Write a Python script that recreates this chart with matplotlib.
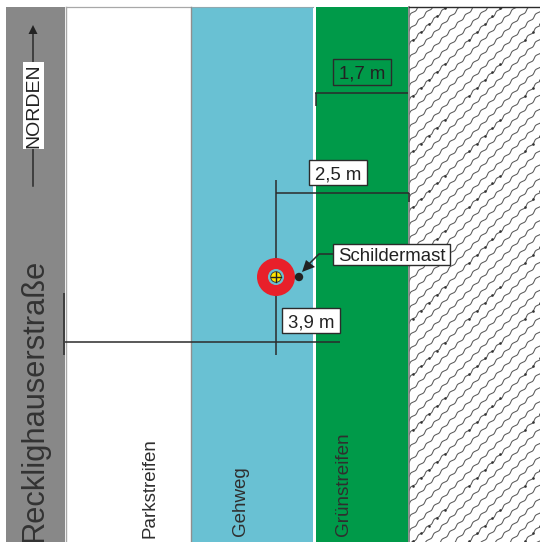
import numpy as np
import matplotlib
matplotlib.use("Agg")
import matplotlib.pyplot as plt
from matplotlib.patches import Rectangle, Circle, Polygon

plt.rcParams['font.family'] = ['Liberation Sans', 'DejaVu Sans']

W, H = 540, 542
# strips: name, x0, x1, colour
strip_names = ["Reckl", "Parkstreifen", "Gehweg", "Grünstreifen"]
strip_x0 = [6, 66, 192, 316]
strip_x1 = [65, 190, 313, 408]
strip_col = ["#888888", "#ffffff", "#69c1d3", "#009a49"]
TOP = 7

labels = ["Parkstreifen", "Gehweg", "Grünstreifen"]
label_x = [149.5, 240, 343.5]
label_y = [538.5, 535.5, 535.5]
label_size = [13.5, 13.5, 13.6]

dim_texts = ["1,7 m", "2,5 m", "3,9 m", "Schildermast"]
dim_boxes = [(333, 59, 391, 85), (309, 160, 367, 185), (282, 308, 340, 333), (333, 244, 450, 265)]
dim_fill = ["none", "white", "white", "white"]

DK = "#2b2b2b"

fig = plt.figure(figsize=(5.4, 5.42), dpi=100)
ax = fig.add_axes([0, 0, 1, 1])
ax.set_xlim(0, W)
ax.set_ylim(H, 0)
ax.axis("off")

# strips
for x0, x1, c in zip(strip_x0, strip_x1, strip_col):
    ax.add_patch(Rectangle((x0, TOP), x1 - x0, H - TOP + 5, fc=c, ec="none", zorder=1))
# outlines of the white strip
ax.plot([66, 66], [TOP, H], color="#a8a8a8", lw=1.0, zorder=2)
ax.plot([66, 190.5], [7, 7], color="#a8a8a8", lw=0.9, zorder=2)
ax.plot([191, 191], [TOP, H], color="#8f8f8f", lw=1.0, zorder=2)
ax.plot([192, 313], [7, 7], color="#8fa9b0", lw=0.8, zorder=2)

# hatch area: wavy diagonals with dots on a repeating tile
HX0, HX1 = 409, 540
PERIOD = 55.7
SPACING = PERIOD / 4
BASE = 413.3 + 40.0
dot_offsets = np.array([[413.3, 40.0], [421.1, 32.1], [428.9, 24.2], [436.7, 16.3], [444.5, 8.4]])
clip = Rectangle((HX0, TOP), HX1 - HX0, H - TOP, transform=ax.transData, fc="none", ec="none")
ax.add_patch(clip)
for k in range(-2, 50):
    c = BASE + (k - 2) * SPACING
    t = np.linspace(350, 600, 1200)
    wave = 0.55 * np.sin(2 * np.pi * (t - 413.3) / 7.8)
    xs = t + wave
    ys = c - t + wave
    ln, = ax.plot(xs, ys, color="#5a5a5a", lw=0.75, zorder=2)
    ln.set_clip_path(clip)
for i in range(-3, 4):
    for j in range(-1, 11):
        pts = dot_offsets + [i * PERIOD, j * PERIOD]
        sc = ax.scatter(pts[:, 0], pts[:, 1], s=3.5, color="#333333", lw=0, zorder=3)
        sc.set_clip_path(clip)
ax.plot([409, 409], [TOP, H], color="#7a7a7a", lw=1.2, zorder=4)
ax.plot([409, 540], [6.5, 6.5], color=DK, lw=1.0, zorder=4)

# dimension lines
segs = [
    ([315, 408], [93, 93]), ([315.5, 315.5], [93, 106]),
    ([276, 409], [193, 193]), ([409, 409], [193, 202]),
    ([276, 276], [180, 355]),
    ([65, 340], [341.5, 341.5]), ([64, 64], [293, 355]),
]
for xs, ys in segs:
    ax.plot(xs, ys, color=DK, lw=1.1, zorder=5, solid_capstyle="butt")

# sign-post marker
cx, cy = 276, 277
ax.add_patch(Circle((cx, cy), 19, fc="#e8202a", ec="none", zorder=6))
ax.add_patch(Circle((cx, cy), 8, fc="#69c1d3", ec="none", zorder=7))
ax.add_patch(Circle((cx, cy), 5.3, fc="#ffe600", ec="#333333", lw=0.6, zorder=8))
ax.plot([cx - 5, cx + 5], [cy, cy], color="#222222", lw=1.0, zorder=9)
ax.plot([cx, cx], [cy - 5, cy + 5], color="#222222", lw=1.0, zorder=9)
ax.add_patch(Circle((299, 277), 4.2, fc="#222222", ec="none", zorder=9))

# leader arrow
ax.plot([333, 319, 310], [254, 254, 263], color=DK, lw=1.1, zorder=9)
ax.add_patch(Polygon([(302, 272), (306, 260), (315, 267)], fc="#222222", ec="none", zorder=9))

# boxes with text
for s, b, f in zip(dim_texts, dim_boxes, dim_fill):
    x0, y0, x1, y1 = b
    ax.add_patch(Rectangle((x0, y0), x1 - x0, y1 - y0, fc=f, ec=DK, lw=1.0, zorder=10))
    ax.text((x0 + x1) / 2, (y0 + y1) / 2 + 0.3, s, ha="center", va="center_baseline",
            fontsize=13.4, color="#222222", zorder=11)

# north arrow
ax.plot([33, 33], [186, 32], color=DK, lw=1.1, zorder=5)
ax.add_patch(Polygon([(33, 25), (28.5, 34), (37.5, 34)], fc="#222222", ec="none", zorder=5))
ax.add_patch(Rectangle((23, 62), 21, 87, fc="white", ec="none", zorder=6))
ax.text(33.5, 105.5, "NORDEN", rotation=90, ha="center", va="center", fontsize=14,
        color="#222222", zorder=7)

# rotated labels
ax.text(35, 541.5, "Recklighauserstraße", rotation=90, ha="center", va="bottom", fontsize=22.2,
        color="#333333", zorder=3)
for s, x, y, fs in zip(labels, label_x, label_y, label_size):
    ax.text(x, y, s, rotation=90, ha="center", va="bottom", fontsize=fs, color="#2f2f2f", zorder=3)

fig.savefig("out.png", dpi=100, facecolor="white")
